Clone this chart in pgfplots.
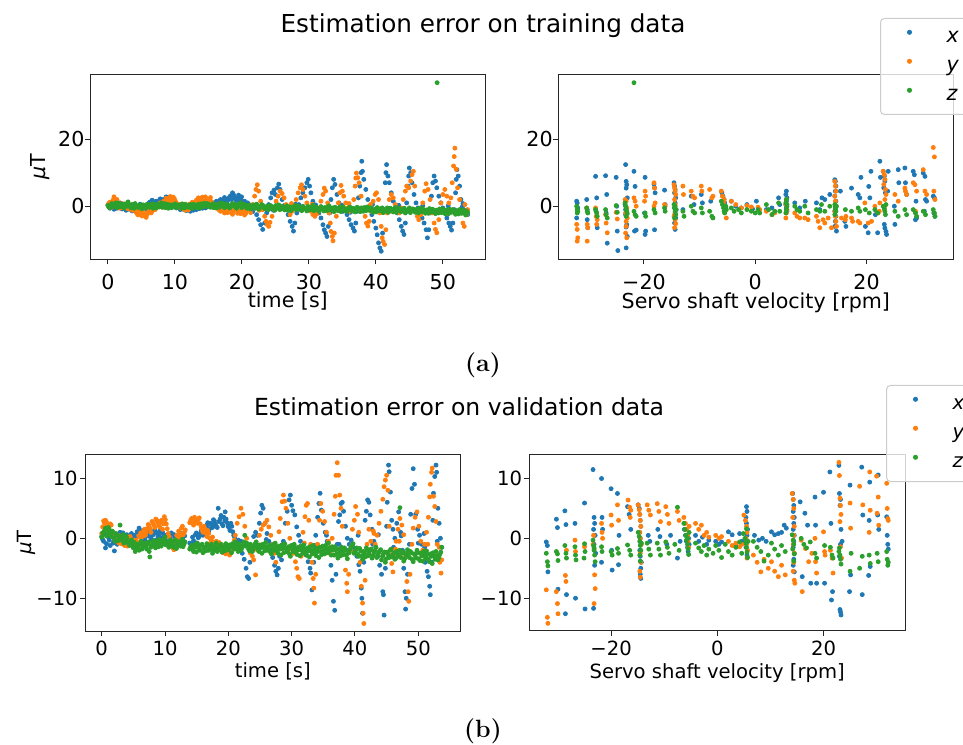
\documentclass[border=0pt]{standalone}
\usepackage{fontspec}
\setsansfont{DejaVu Sans}
\renewcommand{\familydefault}{\sfdefault}
\usepackage{pgfplots}
\pgfplotsset{compat=1.18}

\definecolor{tabblue}{HTML}{1F77B4}
\definecolor{taborange}{HTML}{FF7F0E}
\definecolor{tabgreen}{HTML}{2CA02C}

\pgfplotsset{
  panel/.style={
    scale only axis, axis on top,
    axis line style={line width=0.5pt, black!85},
    tick align=outside, tick pos=left,
    major tick length=2.6pt,
    every tick/.append style={line width=0.5pt, black!85},
    ticklabel style={font=\fontsize{#1}{#1}\selectfont},
    label style={font=\fontsize{#1}{#1}\selectfont},
    yticklabel style={inner xsep=0pt},
  },
  dots/.style={only marks, mark=*, mark size=1.0pt, mark options={draw=none, fill=#1}, color=#1},
  errlegend/.style={
    legend style={
      draw=black!20, line width=0.5pt, rounded corners=2pt,
      fill=white, fill opacity=0.8, text opacity=1, draw opacity=1,
      inner xsep=4.2pt, inner ysep=4.5pt, row sep=4.5pt,
      font=\fontsize{#1}{#1}\selectfont,
      nodes={inner xsep=0pt, inner ysep=0pt, text height=7.5pt, text depth=2.5pt},
      /tikz/every odd column/.append style={column sep=8.2pt},
    },
    legend cell align=left,
    legend image code/.code={
      \path[draw=none, fill=none] (-10.3pt,0pt) rectangle (10.3pt,0pt);
      \draw[##1, fill opacity=1] plot coordinates {(0pt,2.6pt)};
    },
  },
}

\begin{document}
\begin{tikzpicture}
\useasboundingbox (0,0) rectangle (481.5pt,372pt);
\clip (0,0) rectangle (481.5pt,372pt);

% ---------- titles and sub-captions ----------
\node[anchor=base, font=\fontsize{12.35}{14}\selectfont] at (241.5pt,355.5pt) {Estimation error on training data};
\node[anchor=base, font=\fontsize{11.75}{14}\selectfont] at (229.5pt,164pt) {Estimation error on validation data};
\node[font=\rmfamily\bfseries\fontsize{12.5}{14}\selectfont] at (241.5pt,189.5pt) {(a)};
\node[font=\rmfamily\bfseries\fontsize{12.5}{14}\selectfont] at (241.5pt,6.5pt) {(b)};

% ---------- training data, error over time ----------
\begin{axis}[panel=10.3,
  at={(45pt,242.35pt)}, anchor=south west,
  width=197.85pt, height=92.5pt,
  xmin=-2.68, xmax=56.4, ymin=-15.8, ymax=39.3,
  xtick={0,10,20,30,40,50}, xticklabels={0,10,20,30,40,50},
  ytick={0,20}, yticklabels={0,20},
  xticklabel style={anchor=base, yshift=-12.5pt},
  xlabel={time [s]}, ylabel={\textit{μ}T},
  xlabel style={at={([yshift=-24.3pt]axis description cs:0.5,0)}, anchor=base},
  ylabel style={at={([xshift=-25pt]axis description cs:0,0.5)}, anchor=center},
]
\addplot[dots=tabblue] coordinates {
(0.0,0.3) (0.3,-0.6) (0.6,0.8) (0.9,-0.9) (1.2,0.4) (1.5,-0.2) (1.8,1.0) (2.1,-0.8) (2.4,0.2) (2.7,-1.2) (3.0,0.5) (3.3,-0.5) (3.6,-1.4) (3.9,0.3) (4.2,-0.7) (4.5,-1.0) (4.8,0.6) (5.1,-0.4) (5.4,0.2) (5.7,-0.9)
(6.0,0.7) (6.3,1.3) (6.6,1.8) (6.9,0.5) (7.2,1.5) (7.5,0.8) (7.8,2.2) (8.1,1.2) (8.4,0.4) (8.7,2.8) (9.0,1.6) (9.3,0.9) (9.6,-0.3) (9.9,0.6) (10.2,-0.5) (10.5,0.2) (10.8,-1.0) (11.1,0.4) (11.4,-0.6) (11.7,-1.3)
(12.0,-0.2) (12.3,-1.5) (12.6,-0.8) (12.9,0.3) (13.2,-1.0) (13.5,-0.4) (13.8,0.5) (14.1,-0.6) (14.4,0.9) (14.7,-0.3) (15.0,0.6) (15.3,1.2) (15.6,-0.2) (15.9,0.8) (16.2,1.5) (16.5,0.4) (16.8,2.0) (17.1,1.1) (17.4,2.6) (17.7,1.4)
(18.0,2.2) (18.3,3.1) (18.6,4.0) (18.9,2.5) (19.2,1.7) (19.5,3.3) (19.8,2.0) (20.1,0.8) (20.4,1.5) (20.7,-0.3) (21.0,0.6)
(0.15,-0.2) (0.45,0.5) (0.75,-0.4) (1.05,0.7) (1.35,-0.6) (1.65,0.3) (1.95,-0.3) (2.25,0.6) (2.55,-0.7) (2.85,0.1) (3.15,-0.9) (3.45,0.4) (3.75,-0.6) (4.05,-1.2) (4.35,0.1) (4.65,-0.5) (4.95,-1.1) (5.25,0.3) (5.55,-0.6) (5.85,0.1)
(6.15,1.0) (6.45,0.6) (6.75,1.4) (7.05,1.0) (7.35,0.5) (7.65,1.7) (7.95,1.0) (8.25,2.0) (8.55,1.0) (8.85,1.9) (9.15,0.6) (9.45,1.2) (9.75,0.2) (10.05,-0.2) (10.35,0.5) (10.65,-0.6) (10.95,-0.2) (11.25,-0.9) (11.55,0.0) (11.85,-0.8)
(12.15,-1.1) (12.45,-0.3) (12.75,-1.2) (13.05,-0.4) (13.35,0.2) (13.65,-0.7) (13.95,0.0) (14.25,0.4) (14.55,-0.5) (14.85,0.2) (15.15,0.9) (15.45,0.4) (15.75,1.0) (16.05,0.3) (16.35,1.1) (16.65,1.6) (16.95,0.8) (17.25,1.9) (17.55,2.1) (17.85,1.6)
(18.15,2.7) (18.45,2.0) (18.75,3.4) (19.05,2.0) (19.35,2.6) (19.65,1.4) (19.95,2.8) (20.25,1.2) (20.55,0.4) (20.85,1.0)
(21.3,-0.8) (21.6,-1.6) (21.9,-0.5) (22.2,-2.5) (22.5,-4.0) (22.8,-5.5) (23.1,-6.9) (23.4,-5.0) (23.7,-2.0) (24.0,0.5) (24.3,2.5) (24.5,4.0) (24.8,4.8) (25.0,3.5) (25.3,5.5) (25.5,6.6) (25.7,5.0) (26.0,2.0) (26.3,0.2) (26.6,-1.0)
(26.9,-2.5) (27.2,-4.5) (27.5,-6.0) (27.7,-7.4) (27.9,-5.0) (28.2,-2.0) (28.5,0.5) (28.8,2.5) (29.1,4.0) (29.4,5.5) (29.7,7.0) (29.9,8.0) (30.1,6.0) (30.3,4.0) (30.6,1.5) (30.9,0.0) (31.2,-1.0) (31.5,-2.0) (31.8,-3.5) (32.1,-5.5)
(32.3,-7.0) (32.5,-8.0) (32.7,-9.0) (32.9,-6.0) (33.1,-2.0) (33.3,2.0) (33.5,5.5) (33.7,8.0) (33.9,6.5) (34.2,3.5) (34.5,1.0) (34.8,-0.5) (35.1,-1.5) (35.4,-1.0) (35.7,-2.5) (36.0,-4.0) (36.3,-5.5) (36.6,-6.5) (36.8,-7.4) (37.0,-5.0)
(37.2,-1.5) (37.4,2.5) (37.6,6.0) (37.8,10.0) (37.9,13.4) (38.0,10.4) (38.2,8.0) (38.5,5.0) (38.8,2.0) (39.1,-0.5) (39.4,-2.5) (39.7,-4.5) (40.0,-6.5) (40.2,-8.5) (40.4,-10.9) (40.6,-12.4) (40.8,-13.4) (41.0,-8.0) (41.2,-1.0) (41.4,7.0)
(41.5,10.0) (41.6,12.4) (41.8,9.0) (42.0,7.0) (42.3,4.0) (42.6,1.5) (42.9,-0.5) (43.2,-2.0) (43.5,-4.0) (43.8,-6.0) (44.0,-7.4) (44.2,-8.4) (44.4,-5.0) (44.6,1.0) (44.8,6.0) (44.9,9.0) (45.0,11.4) (45.2,10.0) (45.4,7.0) (45.7,3.5)
(46.0,1.0) (46.3,-0.5) (46.6,-2.0) (46.9,-3.5) (47.2,-5.0) (47.5,-7.0) (47.7,-9.4) (47.9,-7.0) (48.1,-2.0) (48.3,3.0) (48.5,7.0) (48.7,9.0) (48.9,7.5) (49.1,5.5) (49.4,3.0) (49.7,1.0) (50.0,-0.5) (50.3,-2.0) (50.6,-3.5) (50.9,-5.0)
(51.1,-6.0) (51.3,-7.1) (51.5,-5.0) (51.7,-1.0) (51.9,4.0) (52.0,8.0) (52.1,10.9) (52.3,9.0) (52.5,6.0) (52.7,2.0) (52.9,-0.2) (53.1,-1.0) (53.3,-2.0) (53.5,-1.2) (53.7,-2.5)
(22.0,0.3) (23.0,-0.5) (24.7,-1.2) (26.2,-0.3) (28.0,0.6) (29.0,-0.8) (31.0,0.4) (33.0,-1.5) (34.9,0.3) (36.2,-1.8) (38.7,-0.4) (39.5,0.5) (42.5,-1.0) (43.4,0.3) (46.1,-1.5) (47.0,0.2) (49.9,-1.2) (50.8,0.1) (53.0,0.8)
};
\addplot[dots=taborange] coordinates {
(0.0,0.5) (0.3,1.2) (0.6,-0.3) (0.9,2.8) (1.2,1.5) (1.5,0.4) (1.8,-0.6) (2.1,0.8) (2.4,-0.2) (2.7,0.3) (3.0,-0.8) (3.3,0.2) (3.6,-1.2) (3.9,-0.5) (4.2,-1.8) (4.5,-2.6) (4.8,-1.4) (5.1,-2.9) (5.4,-2.2) (5.7,-3.3)
(6.0,-1.9) (6.3,-0.9) (6.6,-1.5) (6.9,0.2) (7.2,-0.6) (7.5,0.5) (7.8,1.0) (8.1,-0.3) (8.4,1.6) (8.7,2.4) (9.0,1.2) (9.3,2.9) (9.6,1.8) (9.9,2.3) (10.2,1.0) (10.5,0.4) (10.8,-0.5) (11.1,0.3) (11.4,-0.9) (11.7,-0.2)
(12.0,-1.1) (12.3,0.2) (12.6,1.2) (12.9,0.5) (13.2,1.8) (13.5,2.5) (13.8,1.3) (14.1,2.7) (14.4,1.9) (14.7,2.2) (15.0,1.0) (15.3,2.6) (15.6,0.8) (15.9,-0.2) (16.2,0.4) (16.5,-0.9) (16.8,-1.5) (17.1,-0.6) (17.4,-2.0) (17.7,-1.2)
(18.0,-0.4) (18.3,-1.7) (18.6,-2.4) (18.9,-1.0) (19.2,-0.3) (19.5,-1.8) (19.8,-2.2) (20.1,-1.1) (20.4,-2.6) (20.7,-1.5) (21.0,-0.7) (21.3,-1.9)
(0.15,0.9) (0.45,-0.1) (0.75,1.8) (1.05,1.0) (1.35,2.0) (1.65,0.1) (1.95,0.4) (2.25,-0.4) (2.55,0.6) (2.85,-0.5) (3.15,0.0) (3.45,-0.9) (3.75,-0.2) (4.05,-1.0) (4.35,-2.2) (4.65,-1.7) (4.95,-2.4) (5.25,-1.6) (5.55,-2.7) (5.85,-2.5)
(6.15,-1.2) (6.45,-2.0) (6.75,-0.4) (7.05,-1.0) (7.35,0.1) (7.65,-0.2) (7.95,0.6) (8.25,1.2) (8.55,0.5) (8.85,2.0) (9.15,2.5) (9.45,1.5) (9.75,2.7) (10.05,1.6) (10.35,0.7) (10.65,-0.1) (10.95,0.6) (11.25,-0.4) (11.55,-1.2) (11.85,-0.5)
(12.15,0.6) (12.45,-0.3) (12.75,0.9) (13.05,1.2) (13.35,2.0) (13.65,1.6) (13.95,2.4) (14.25,1.4) (14.55,2.8) (14.85,1.6) (15.15,2.0) (15.45,1.4) (15.75,0.2) (16.05,-0.5) (16.35,0.1) (16.65,-1.2) (16.95,-0.3) (17.25,-1.4) (17.55,-0.8) (17.85,-1.9)
(18.15,-1.0) (18.45,-2.0) (18.75,-1.4) (19.05,-0.7) (19.35,-2.1) (19.65,-1.4) (19.95,-1.9) (20.25,-0.8) (20.55,-2.2) (20.85,-1.2)
(21.6,0.5) (21.9,3.0) (22.1,5.0) (22.3,6.4) (22.5,4.5) (22.8,1.5) (23.1,-1.0) (23.4,-3.0)
(23.6,-4.5) (23.8,-5.5) (24.0,-6.0) (24.2,-4.8) (24.5,-3.0) (24.8,-1.0) (25.1,1.5) (25.4,3.0) (25.7,4.5) (26.0,3.8) (26.3,2.5) (26.6,0.5) (26.9,-1.0) (27.2,-2.5) (27.5,-1.5) (27.8,0.0) (28.1,2.0) (28.4,4.0) (28.7,5.5) (28.9,6.4)
(29.1,5.0) (29.4,3.0) (29.7,1.0) (30.0,-0.5) (30.3,-1.5) (30.6,-2.5) (30.9,-3.0) (31.2,-2.2) (31.5,-0.5) (31.8,1.5) (32.1,3.5) (32.3,5.4) (32.5,4.5) (32.8,1.0) (33.0,-2.0) (33.2,-5.0) (33.3,-7.5) (33.5,-9.0) (33.6,-10.3) (33.8,-8.0)
(34.1,-3.0) (34.4,1.0) (34.6,4.0) (34.8,6.2) (35.0,4.5) (35.2,3.0) (35.5,1.0) (35.8,-0.5) (36.1,-1.5) (36.4,-1.0) (36.7,2.0) (36.9,6.0) (37.0,8.4) (37.1,9.9) (37.3,8.5) (37.5,7.0) (37.8,3.0) (38.1,-1.0) (38.4,-3.0) (38.6,-5.0)
(38.8,-5.9) (39.0,-4.5) (39.3,-1.5) (39.6,1.5) (39.9,3.5) (40.1,4.0) (40.4,2.0) (40.6,-2.0) (40.8,-6.0) (40.95,-9.4) (41.1,-10.5) (41.3,-11.4) (41.5,-7.0) (41.7,-2.0) (42.0,2.0) (42.3,3.5) (42.6,2.5) (42.9,0.5) (43.2,-1.0) (43.5,-2.0)
(43.8,-0.5) (44.1,2.0) (44.4,4.5) (44.6,6.0) (44.9,5.5) (45.2,7.5) (45.4,9.4) (45.6,10.4) (45.8,6.0) (46.0,-1.0) (46.2,-3.0) (46.4,-4.0) (46.7,-2.5) (47.0,1.0) (47.3,4.5) (47.5,6.7) (47.8,5.0) (48.1,2.0) (48.4,-2.0) (48.7,-5.0)
(48.9,-6.9) (49.1,-7.9) (49.4,-4.0) (49.7,1.0) (50.0,3.5) (50.3,5.0) (50.6,3.0) (50.9,1.0) (51.2,2.5) (51.4,7.0) (51.6,12.0) (51.7,14.8) (51.8,17.3) (52.0,11.0) (52.2,5.5) (52.5,2.0) (52.8,-2.0) (53.0,-5.0) (53.2,-6.0) (53.5,-2.5) (53.7,-1.0)
(22.6,-1.2) (25.9,-0.8) (27.4,0.8) (30.5,0.6) (34.0,-1.2) (36.0,0.8) (39.2,0.5) (42.1,-1.5) (44.0,-1.0) (46.9,-1.2) (49.8,-1.5) (51.0,-1.8) (53.3,0.5)
};
\addplot[dots=tabgreen] coordinates {
(0.0,0.2) (0.3,-0.4) (0.6,0.8) (0.9,0.1) (1.2,1.0) (1.5,0.3) (1.8,-0.2) (2.1,0.6) (2.4,-0.5) (2.7,0.4) (3.0,1.3) (3.3,-0.1) (3.6,0.5) (3.9,-0.6) (4.2,0.2) (4.5,-0.3) (4.8,0.4) (5.1,-0.7) (5.4,0.1) (5.7,-0.4)
(6.0,0.5) (6.3,-0.2) (6.6,0.7) (6.9,0.0) (7.2,-0.5) (7.5,0.6) (7.8,0.2) (8.1,-0.3) (8.4,0.8) (8.7,0.1) (9.0,-0.6) (9.3,0.4) (9.6,-0.2) (9.9,0.6) (10.2,-0.4) (10.5,0.3) (10.8,-0.1) (11.1,0.7) (11.4,-0.5) (11.7,0.2)
(12.0,-0.3) (12.3,0.5) (12.6,-0.6) (12.9,0.1) (13.2,-0.2) (13.5,0.6) (13.8,-0.4) (14.1,0.3) (14.4,0.9) (14.7,0.0) (15.0,0.5) (15.3,-0.3) (15.6,0.7) (15.9,0.2) (16.2,-0.5) (16.5,0.4) (16.8,1.0) (17.1,0.1) (17.4,-0.4) (17.7,0.6)
(18.0,0.2) (18.3,-0.3) (18.6,0.8) (18.9,0.0) (19.2,-0.6) (19.5,0.4) (19.8,1.0) (20.1,-0.2) (20.4,0.5) (20.7,-0.5) (21.0,0.3) (21.3,-0.8) (21.6,0.1) (21.9,-0.4) (22.2,0.6) (22.5,-0.9) (22.8,-0.2) (23.1,0.3) (23.4,-0.7) (23.7,-0.1)
(24.0,-1.0) (24.3,0.2) (24.6,-0.5) (24.9,-1.2) (25.2,-0.3) (25.5,0.4) (25.8,-0.8) (26.1,-0.2) (26.4,-1.1) (26.7,0.1) (27.0,-0.6) (27.3,-1.3) (27.6,-0.4) (27.9,0.2) (28.2,-0.9) (28.5,-0.3) (28.8,-1.1) (29.1,0.0) (29.4,-0.7) (29.7,-1.4)
(30.0,-0.2) (30.3,-0.8) (30.6,0.3) (30.9,-1.0) (31.2,-0.5) (31.5,-1.5) (31.8,-0.1) (32.1,-0.9) (32.4,-0.4) (32.7,-1.3) (33.0,0.1) (33.3,-0.7) (33.6,-1.2) (33.9,-0.3) (34.2,-1.0) (34.5,-0.5) (34.8,-1.6) (35.1,-0.2) (35.4,-0.9) (35.7,-1.4)
(36.0,-0.4) (36.3,-1.1) (36.6,-0.6) (36.9,-1.7) (37.2,-0.3) (37.5,-1.0) (37.8,-0.5) (38.1,-1.5) (38.4,-0.8) (38.7,-0.2) (39.0,-1.2) (39.3,-0.6) (39.6,-1.8) (39.9,-0.9) (40.2,-0.4) (40.5,-1.3) (40.8,-0.7) (41.1,-1.9) (41.4,-1.0) (41.7,-0.5)
(42.0,-1.4) (42.3,-0.8) (42.6,-1.7) (42.9,-0.4) (43.2,-1.1) (43.5,-0.6) (43.8,-1.6) (44.1,-0.9) (44.4,-2.0) (44.7,-1.2) (45.0,-0.5) (45.3,-1.5) (45.6,-0.9) (45.9,-1.8) (46.2,-1.1) (46.5,-0.6) (46.8,-1.6) (47.1,-1.0) (47.4,-2.1) (47.7,-1.3)
(48.0,-0.7) (48.3,-1.7) (48.6,-1.1) (48.9,-2.2) (49.2,-1.4) (49.5,-0.8) (49.8,-1.9) (50.1,-1.2) (50.4,-2.3) (50.7,-1.5) (51.0,-0.9) (51.3,-1.8) (51.6,-1.3) (51.9,-2.4) (52.2,-1.6) (52.5,-1.0) (52.8,-2.1) (53.1,-1.5) (53.4,-2.6) (53.7,-1.8)
(0.15,-0.3) (0.45,0.5) (0.75,-0.1) (1.05,0.6) (1.35,-0.4) (1.65,0.9) (1.95,0.2) (2.25,-0.2) (2.55,0.7) (2.85,0.0) (3.15,0.4) (3.45,-0.5) (3.75,0.3) (4.05,0.8) (4.35,-0.2) (4.65,0.1) (4.95,-0.6) (5.25,0.4) (5.55,-0.1) (5.85,0.6)
(6.15,-0.3) (6.45,0.3) (6.75,-0.6) (7.05,0.5) (7.35,0.1) (7.65,-0.2) (7.95,0.9) (8.25,0.3) (8.55,-0.4) (8.85,0.6) (9.15,0.0) (9.45,-0.4) (9.75,0.3) (10.05,0.7) (10.35,-0.1) (10.65,0.4) (10.95,-0.6) (11.25,0.2) (11.55,0.6) (11.85,-0.2)
(12.15,0.3) (12.45,-0.4) (12.75,0.6) (13.05,0.2) (13.35,-0.5) (13.65,0.1) (13.95,0.7) (14.25,-0.2) (14.55,0.4) (14.85,0.8) (15.15,-0.1) (15.45,0.3) (15.75,-0.4) (16.05,0.6) (16.35,0.1) (16.65,-0.3) (16.95,0.5) (17.25,0.8) (17.55,-0.2) (17.85,0.3)
(18.15,-0.5) (18.45,0.5) (18.75,0.1) (19.05,0.6) (19.35,-0.2) (19.65,0.2) (19.95,-0.4) (20.25,0.6) (20.55,0.0) (20.85,-0.6) (21.15,0.2) (21.45,-0.3) (21.75,0.4) (22.05,-0.6) (22.35,0.0) (22.65,-0.4) (22.95,0.5) (23.25,-0.3) (23.55,-0.8) (23.85,0.1)
(24.15,-0.5) (24.45,-0.1) (24.75,-0.8) (25.05,0.2) (25.35,-0.6) (25.65,-1.0) (25.95,-0.1) (26.25,-0.7) (26.55,-0.3) (26.85,-1.2) (27.15,-0.2) (27.45,-0.8) (27.75,-0.3) (28.05,-1.0) (28.35,0.1) (28.65,-0.6) (28.95,-1.3) (29.25,-0.4) (29.55,-0.9) (29.85,-0.1)
(30.15,-1.1) (30.45,-0.6) (30.75,-1.3) (31.05,-0.3) (31.35,-0.8) (31.65,-1.0) (31.95,-0.4) (32.25,-1.4) (32.55,-0.6) (32.85,-0.2) (33.15,-1.1) (33.45,-0.5) (33.75,-1.6) (34.05,-0.7) (34.35,-1.3) (34.65,-0.2) (34.95,-1.0) (35.25,-0.6) (35.55,-1.5) (35.85,-0.8)
(36.15,-0.3) (36.45,-1.4) (36.75,-0.9) (37.05,-1.2) (37.35,-0.6) (37.65,-1.6) (37.95,-0.9) (38.25,-0.4) (38.55,-1.3) (38.85,-1.0) (39.15,-0.5) (39.45,-1.5) (39.75,-1.0) (40.05,-1.7) (40.35,-0.7) (40.65,-1.2) (40.95,-0.5) (41.25,-1.4) (41.55,-1.0) (41.85,-1.8)
(42.15,-0.6) (42.45,-1.3) (42.75,-0.9) (43.05,-1.8) (43.35,-0.7) (43.65,-1.4) (43.95,-1.1) (44.25,-0.6) (44.55,-1.6) (44.85,-1.1) (45.15,-1.9) (45.45,-0.8) (45.75,-1.4) (46.05,-1.0) (46.35,-2.0) (46.65,-1.3) (46.95,-0.7) (47.25,-1.6) (47.55,-1.1) (47.85,-2.1)
(48.15,-1.3) (48.45,-0.9) (48.75,-1.8) (49.05,-1.2) (49.35,-2.0) (49.65,-1.4) (49.95,-0.8) (50.25,-1.7) (50.55,-1.1) (50.85,-2.2) (51.15,-1.4) (51.45,-1.0) (51.75,-1.9) (52.05,-1.3) (52.35,-2.3) (52.65,-1.5) (52.95,-1.1) (53.25,-2.0) (53.55,-1.4)
(49.15,36.8)
};
\end{axis}

% ---------- training data, error over shaft velocity ----------
\begin{axis}[panel=10.3, errlegend=10.3,
  at={(279.15pt,242.35pt)}, anchor=south west,
  width=197.5pt, height=92.5pt,
  xmin=-35.4, xmax=35.6, ymin=-15.8, ymax=39.3,
  xtick={-20,0,20}, xticklabels={−20,0,20},
  ytick={0,20}, yticklabels={0,20},
  xticklabel style={anchor=base, yshift=-12.5pt},
  xlabel={Servo shaft velocity [rpm]},
  xlabel style={at={([yshift=-24.5pt]axis description cs:0.5,0)}, anchor=base},
  legend style={at={(0.8144,1.3043)}, anchor=north west},
]
\addplot[dots=tabblue] coordinates {
(-32.1,1.5) (-32.0,1.0) (-32.1,-3.5) (-31.9,-0.5)
(-30.3,2.0) (-30.2,-4.0) (-30.1,-6.4) (-30.2,-1.0)
(-28.7,8.9) (-28.5,2.5) (-28.4,-6.4) (-28.6,-1.5)
(-26.9,9.1) (-26.7,3.5) (-26.6,-11.0) (-26.8,-2.0)
(-25.0,8.6) (-24.9,0.0) (-24.8,-7.4) (-24.7,-13.2)
(-23.3,12.4) (-23.2,7.4) (-23.1,6.4) (-23.2,5.4) (-23.0,2.5) (-23.3,-2.5) (-23.1,-5.5) (-23.2,-6.2) (-23.0,-9.0) (-23.2,-12.4) (-23.4,0.5) (-23.3,-1.0)
(-21.8,10.4) (-21.6,5.9) (-21.4,-7.1) (-21.7,-7.4)
(-19.8,8.6) (-19.9,-2.0) (-19.7,-7.4) (-19.8,-8.4)
(-18.2,6.6) (-18.1,5.5) (-18.0,4.0) (-18.1,-7.0)
(-16.3,4.8) (-16.2,0.5)
(-14.6,7.0) (-14.5,6.0) (-14.4,5.0) (-14.5,4.0) (-14.3,2.5) (-14.4,1.0) (-14.5,-0.5) (-14.4,-2.0) (-14.3,-3.5) (-14.5,-5.0) (-14.4,-6.9) (-14.2,-1.0)
(-13.0,-1.0) (-11.5,3.0) (-11.0,0.5) (-9.7,3.5) (-9.5,1.0) (-8.0,1.5)
(-6.0,4.0) (-5.8,3.0) (-5.6,2.0) (-5.5,1.0) (-5.4,0.0) (-5.3,-0.5) (-5.5,-1.0)
(-4.3,1.5) (-3.5,0.0) (-2.5,-0.5) (-1.5,0.5) (0.2,1.5) (-0.5,-0.8)
(2.0,-1.0) (3.0,-0.5) (4.2,2.5) (4.4,0.5)
(5.6,4.5) (5.5,3.5) (5.7,2.5) (5.6,1.5) (5.5,0.5) (5.6,-0.5) (5.7,-1.5)
(7.1,1.0) (8.0,-0.5) (9.0,1.5) (11.0,1.0) (11.6,-1.0) (12.0,2.5) (12.5,2.0) (13.4,3.5)
(14.3,7.9) (14.4,7.4) (14.5,6.0) (14.4,4.5) (14.3,3.0) (14.5,1.5) (14.4,0.0) (14.3,-1.5) (14.5,-3.0) (14.4,-4.5) (14.3,-6.0) (14.6,-7.4)
(15.3,4.5) (16.1,-4.5) (16.3,-6.0) (17.3,5.4) (18.5,3.5) (18.8,2.5) (19.0,8.6)
(19.8,-6.0) (20.3,-7.9) (20.4,5.9) (20.6,2.5) (20.8,10.4)
(21.6,-2.5) (22.0,-7.9) (22.4,13.4) (22.5,8.6)
(23.0,10.4) (23.2,9.0) (23.3,7.5) (23.1,5.5) (23.4,4.0) (23.2,-5.4) (23.3,-6.5) (23.5,-7.5) (23.6,-8.4) (23.9,10.4) (23.8,4.5)
(25.1,-5.4) (25.0,0.0) (25.7,10.9) (25.8,7.0)
(26.9,11.4) (27.0,7.0) (27.2,3.5)
(28.4,10.4) (28.6,9.4) (28.9,1.5) (29.0,-3.5) (28.8,-4.0)
(30.2,9.9) (30.5,8.9) (30.6,2.0) (30.8,1.5) (30.4,-1.5)
(32.0,3.0) (32.2,2.5) (32.1,-2.0) (32.3,-3.0)
};
\addplot[dots=taborange] coordinates {
(-32.1,-5.4) (-32.0,-6.9) (-31.9,-9.4) (-32.0,-10.4)
(-30.3,-0.5) (-30.2,-5.4) (-30.1,-6.4) (-30.2,-10.4)
(-28.7,-0.5) (-28.6,-3.0) (-28.4,-4.0) (-28.5,-5.4)
(-26.9,-2.5) (-26.8,-5.0) (-26.6,-7.9)
(-25.0,-1.8) (-24.8,-3.8)
(-23.4,2.0) (-23.2,1.5) (-23.1,-0.5) (-23.3,-2.0) (-23.0,-3.5) (-23.2,-4.5) (-23.1,-9.4) (-23.3,-8.0) (-23.2,-6.0)
(-21.8,2.5) (-21.6,1.5) (-21.4,0.0)
(-19.8,4.5) (-19.7,3.0) (-19.9,1.5)
(-18.2,7.0) (-18.1,5.4) (-18.0,1.0) (-18.2,0.0)
(-16.3,0.5) (-16.2,0.0)
(-14.6,6.4) (-14.5,5.5) (-14.4,4.5) (-14.3,3.5) (-14.5,2.0) (-14.4,0.5) (-14.3,-1.0) (-14.5,-2.5) (-14.4,-4.0) (-14.3,-5.2) (-14.5,-6.4) (-14.6,-3.0)
(-13.0,6.0) (-12.9,3.5) (-11.5,4.5) (-11.2,3.0) (-10.9,2.5) (-9.7,6.0) (-9.6,4.5) (-8.2,5.0) (-7.8,2.5) (-7.6,3.0)
(-6.1,4.5) (-5.9,3.0) (-5.7,1.5) (-5.6,0.5) (-5.5,-0.5) (-5.4,-1.5) (-5.2,-3.5) (-5.6,2.0)
(-4.3,1.5) (-3.5,0.5) (-2.5,-0.5) (-1.5,0.2) (-0.7,-0.2) (0.5,-0.3) (0.8,-1.0)
(2.0,-1.5) (3.0,-2.5) (3.5,-2.0)
(5.6,2.0) (5.5,0.5) (5.7,-1.0) (5.6,-2.0) (5.5,-3.5)
(7.1,-2.0) (7.5,-3.0) (8.0,-3.5) (8.9,-3.5) (9.5,-4.0) (11.0,-3.0) (11.3,-4.5) (11.6,-6.4) (12.2,-4.0) (12.5,-5.0) (13.1,-3.5) (13.7,-6.4)
(14.3,7.4) (14.4,6.0) (14.5,4.5) (14.3,3.0) (14.4,1.5) (14.5,0.0) (14.3,-1.5) (14.4,-3.0) (14.5,-4.5) (14.6,-6.0)
(15.5,-3.5) (16.3,-3.0) (16.2,-4.0) (17.3,-3.5) (17.5,-4.5) (18.5,-4.5) (18.8,-5.0) (19.7,1.0) (20.3,-5.0) (20.9,-4.5)
(21.5,0.0) (22.1,-2.0) (22.4,1.0) (22.3,-1.5)
(23.0,10.4) (23.2,9.4) (23.3,8.0) (23.1,6.5) (23.4,5.0) (23.5,3.5) (23.3,2.0) (23.2,-0.5)
(25.1,3.5) (25.7,1.5) (26.9,5.4) (27.0,4.5) (27.2,3.5)
(28.4,7.0) (28.7,6.4) (29.0,4.5) (28.8,-1.5)
(30.2,10.9) (30.5,4.5) (30.8,3.5)
(32.0,17.5) (32.2,14.7) (32.1,4.5) (32.3,2.0)
};
\addplot[dots=tabgreen] coordinates {
(-32.1,0.0) (-32.0,-1.0) (-31.9,-1.5) (-32.0,-2.0)
(-30.3,-0.5) (-30.2,-1.5) (-30.1,-2.0)
(-28.7,-1.0) (-28.5,-2.0) (-28.4,-3.0)
(-26.9,-1.0) (-26.8,-2.5) (-26.6,-3.5)
(-25.0,0.2) (-24.8,-1.8)
(-23.4,1.0) (-23.3,0.0) (-23.2,-0.8) (-23.1,-1.5) (-23.0,-2.2) (-23.2,-3.0)
(-21.8,-1.5) (-21.6,-2.5) (-21.4,-3.0)
(-19.8,-2.0) (-19.7,-3.0)
(-18.2,-1.0) (-18.0,-2.0)
(-16.3,-0.5) (-16.2,-1.5)
(-14.6,0.5) (-14.5,-0.5) (-14.4,-1.5) (-14.3,-2.5) (-14.5,-3.5) (-14.4,0.0) (-14.3,-1.0)
(-13.0,-1.5) (-12.8,-3.0) (-11.5,0.0) (-11.2,-1.5) (-10.9,-2.0) (-9.7,-0.5) (-9.5,-2.0) (-8.2,-1.5) (-7.8,-3.0) (-7.6,-3.5)
(-6.1,1.5) (-5.9,0.5) (-5.7,-0.5) (-5.6,-1.5) (-5.5,-2.0) (-5.3,0.0) (-5.2,-1.0)
(-4.3,-0.5) (-3.8,-1.5) (-3.0,-1.0) (-2.5,-2.0) (-1.5,-1.0) (-0.7,-1.5) (0.0,-2.0) (0.5,-1.0) (0.8,-2.0)
(2.0,0.5) (2.4,-1.0) (3.0,-2.5) (3.5,-1.5) (4.2,1.0) (4.4,-1.5)
(5.6,2.0) (5.5,1.0) (5.7,0.0) (5.6,-1.0) (5.5,-2.0) (5.7,0.5)
(7.1,0.0) (7.5,-1.0) (8.0,-1.5) (8.9,0.0) (9.5,-2.0) (11.0,-1.0) (11.6,-1.5) (11.9,0.5) (12.5,-1.5) (13.4,0.0)
(14.3,0.5) (14.4,-0.5) (14.5,-1.5) (14.3,-2.5) (14.6,0.0) (14.4,-1.0)
(16.2,-1.0) (17.3,-1.5) (18.5,-0.5) (18.8,-1.5) (19.8,-1.0) (20.5,-2.0) (21.5,-1.0) (22.0,-2.0)
(23.0,0.0) (23.2,-0.8) (23.3,-1.5) (23.4,-2.5) (23.5,0.5)
(25.1,-1.5) (25.7,-3.0) (26.9,-1.0) (27.2,-2.5)
(28.4,-1.0) (28.8,-2.0) (29.0,-3.0)
(30.2,-1.5) (30.6,-2.5)
(32.0,-1.0) (32.2,-2.0) (32.3,-3.0)
(-21.8,36.8)
};
\legend{\textit{x},\textit{y},\textit{z}}
\end{axis}

% ---------- validation data, error over time ----------
\begin{axis}[panel=9.8,
  at={(42.5pt,56.5pt)}, anchor=south west,
  width=187.85pt, height=88.35pt,
  xmin=-2.64, xmax=56.7, ymin=-15.45, ymax=14.0,
  xtick={0,10,20,30,40,50}, xticklabels={0,10,20,30,40,50},
  ytick={-10,0,10}, yticklabels={−10,0,10},
  xticklabel style={anchor=base, yshift=-9.8pt},
  yticklabel style={xshift=-0.85pt},
  xlabel={time [s]}, ylabel={\textit{μ}T},
  xlabel style={at={([yshift=-23.2pt]axis description cs:0.5,0)}, anchor=base},
  ylabel style={at={([xshift=-29.5pt]axis description cs:0,0.5)}, anchor=center},
]
\addplot[dots=tabblue] coordinates {
(0.0,0.3) (0.3,-0.5) (0.6,-1.6) (0.9,0.6) (1.2,-0.3) (1.5,0.9) (1.8,-0.8) (2.0,-2.1) (2.3,0.2) (2.6,-0.6) (2.9,1.0) (3.2,-0.2) (3.5,0.5) (3.8,-1.1) (4.1,0.3) (4.4,-0.5) (4.7,0.8) (5.0,-0.9) (5.3,0.1) (5.6,1.1)
(5.9,1.7) (6.2,0.6) (6.5,1.3) (6.8,-0.2) (7.1,0.8) (7.4,1.4) (7.7,0.2) (8.0,1.1) (8.3,-0.4) (8.6,0.9) (8.9,0.3) (9.2,1.2) (9.5,-0.5) (9.8,0.6) (10.1,-0.8) (10.4,0.4) (10.7,-0.3) (11.0,0.9) (11.3,-1.0) (11.6,0.2)
(11.9,-0.6) (12.2,0.5) (12.5,-1.2) (12.8,-0.2) (13.1,0.4) (13.9,-0.8) (14.2,-1.5) (14.5,-0.4) (14.8,0.6) (15.1,-0.9) (15.4,0.3) (15.7,1.2) (16.0,0.5) (16.3,1.6) (16.6,2.2) (16.9,1.2) (17.2,2.5) (17.5,1.8) (17.8,2.9) (18.1,2.0)
(18.4,5.0) (18.7,3.2) (19.0,2.4) (19.3,3.5) (19.5,4.4) (19.8,2.6) (20.1,1.8) (20.4,2.5) (20.7,1.1) (21.0,0.2)
(0.15,-0.2) (0.45,0.8) (0.75,-0.9) (1.05,0.2) (1.35,-1.2) (1.65,0.4) (1.95,-0.4) (2.45,-1.0) (2.75,0.5) (3.05,-0.7) (3.35,0.9) (3.65,-0.4) (3.95,0.6) (4.25,-0.9) (4.55,0.1) (4.85,-0.3) (5.15,0.5) (5.45,-0.5) (5.75,0.9) (6.05,1.2)
(6.35,0.3) (6.65,0.9) (6.95,1.5) (7.25,0.4) (7.55,1.0) (7.85,-0.1) (8.15,0.6) (8.45,1.3) (8.75,-0.2) (9.05,0.7) (9.35,0.1) (9.65,0.9) (9.95,-0.3) (10.25,0.5) (10.55,-0.9) (10.85,0.2) (11.15,-0.5) (11.45,0.6) (11.75,-0.8) (12.05,0.1)
(12.35,-0.4) (12.65,0.8) (12.95,-0.6) (14.05,-0.9) (14.35,0.2) (14.65,-0.6) (14.95,0.9) (15.25,0.1) (15.55,0.7) (15.85,1.4) (16.15,0.8) (16.45,1.9) (16.75,2.6) (17.05,1.6) (17.35,2.2) (17.65,3.1) (17.95,2.4) (18.25,1.8) (18.55,2.8) (18.85,3.8)
(19.15,2.1) (19.45,2.9) (19.65,3.2) (19.95,2.0) (20.25,1.3) (20.55,2.0) (20.85,0.5) (21.15,-0.3)
(21.3,-0.8) (21.6,-0.3) (21.9,-1.5) (22.2,-2.5) (22.5,-3.5) (22.8,-5.0) (23.0,-6.4) (23.2,-6.7) (23.4,-4.0) (23.7,-1.5)
(24.0,0.3) (24.3,1.0) (24.6,0.5) (24.9,2.5) (25.1,4.2) (25.3,5.5) (25.5,5.0) (25.8,2.5) (26.1,0.8) (26.4,-0.5) (26.7,-2.0) (27.0,-3.2) (27.3,-4.5) (27.5,-5.5) (27.7,-6.1) (27.9,-5.0) (28.1,-3.0) (28.4,-3.6) (28.7,-0.5) (29.0,2.5)
(29.3,4.5) (29.6,6.4) (29.8,7.2) (30.0,5.5) (30.2,4.6) (30.5,3.9) (30.8,1.9) (31.1,0.5) (31.4,-0.5) (31.7,-1.5) (32.0,-2.0) (32.3,-2.8) (32.6,-3.9) (32.9,-5.0) (33.0,-5.8) (33.2,-8.6) (33.5,-4.0) (33.8,0.5) (34.1,3.5) (34.3,5.8)
(34.5,7.5) (34.7,4.7) (35.0,2.5) (35.3,1.0) (35.6,-0.5) (35.9,-2.0) (36.2,-4.5) (36.4,-7.0) (36.6,-10.5) (36.8,-12.0) (37.0,-6.0) (37.2,-1.0) (37.4,2.8) (37.6,3.9) (37.8,5.8) (38.0,6.0) (38.2,4.5) (38.5,2.0) (38.8,0.0) (39.1,-1.0)
(39.4,-0.3) (39.7,-1.5) (40.0,-2.2) (40.3,-3.0) (40.6,-4.4) (40.8,-5.5) (41.0,-8.3) (41.1,-10.0) (41.2,-12.5) (41.4,-4.0) (41.6,3.0) (41.8,4.5) (42.0,6.4) (42.2,6.0) (42.4,3.9) (42.7,1.5) (43.0,-0.5) (43.3,-1.5) (43.6,-3.0) (43.9,-4.5)
(44.2,-6.0) (44.4,-8.9) (44.5,-9.4) (44.6,-12.8) (44.8,-5.0) (45.0,2.0) (45.1,6.0) (45.3,12.2) (45.4,11.1) (45.6,7.7) (45.8,3.0) (46.0,1.5) (46.3,0.0) (46.6,2.5) (46.9,4.4) (47.2,1.0) (47.5,-2.0) (47.7,-5.0) (47.9,-8.9) (48.0,-11.8)
(48.1,-10.0) (48.3,-6.0) (48.6,-1.0) (48.8,4.0) (49.0,8.3) (49.2,11.6) (49.4,9.0) (49.6,4.0) (49.9,1.5) (50.2,0.5) (50.5,-1.0) (50.8,-2.5) (51.1,-4.0) (51.4,-5.5) (51.6,-6.4) (51.8,-8.0) (51.9,-9.4) (52.1,-4.0) (52.3,3.0) (52.4,7.5)
(52.6,10.3) (52.8,12.2) (52.9,11.0) (53.1,5.0) (53.3,2.5) (53.5,0.0) (53.7,-1.5)
(22.0,-0.5) (24.4,-1.2) (26.0,-0.2) (28.8,-1.0) (31.0,-1.8) (33.7,-1.2) (35.5,0.5) (37.5,-1.0) (39.0,-2.0) (40.5,0.5) (42.8,-1.0) (43.7,0.6) (46.1,-1.5) (47.3,0.4) (50.0,-0.8) (50.9,0.8) (53.0,-0.5) (51.0,-1.5)
};
\addplot[dots=taborange] coordinates {
(0.0,0.8) (0.3,2.9) (0.6,3.0) (0.9,2.2) (1.2,1.3) (1.5,2.2) (1.8,0.5) (2.1,-0.3) (2.4,0.4) (2.7,-0.8) (3.0,0.1) (3.3,-0.5) (3.6,-1.2) (3.9,-0.2) (4.2,-0.9) (4.5,0.3) (4.8,-0.6) (5.1,-1.4) (5.4,-0.3) (5.7,-0.8)
(6.0,0.2) (6.3,0.6) (6.6,1.2) (6.9,0.5) (7.2,1.6) (7.5,2.0) (7.8,1.0) (8.1,2.5) (8.4,1.8) (8.7,3.0) (9.0,2.2) (9.3,2.8) (9.6,1.5) (9.9,3.6) (10.2,2.4) (10.5,0.8) (10.8,-0.5) (11.1,-1.2) (11.4,-1.9) (11.7,-0.8)
(12.0,0.0) (12.3,0.9) (12.6,1.7) (12.9,0.6) (13.2,1.4) (13.9,2.6) (14.2,3.3) (14.5,2.2) (14.8,3.0) (15.1,2.5) (15.4,3.4) (15.7,1.9) (16.0,1.0) (16.3,1.6) (16.6,0.3) (16.9,0.8) (17.2,-0.8) (17.5,0.2) (17.8,-1.5) (18.1,-0.5)
(18.4,-1.8) (18.7,-1.0) (19.0,-2.2) (19.3,-1.2) (19.6,-2.6) (19.9,-1.8) (20.2,-2.8) (20.5,-2.2) (20.8,-1.0)
(0.15,1.9) (0.45,2.5) (0.75,2.7) (1.05,1.6) (1.35,2.4) (1.65,1.1) (1.95,0.2) (2.25,0.6) (2.55,-0.5) (2.85,0.4) (3.15,-0.9) (3.45,0.0) (3.75,-0.6) (4.05,-1.3) (4.35,-0.1) (4.65,-0.9) (4.95,-0.3) (5.25,-1.0) (5.55,-0.6) (5.85,0.4)
(6.15,0.9) (6.45,0.3) (6.75,1.5) (7.05,1.0) (7.35,2.3) (7.65,1.6) (7.95,2.8) (8.25,2.2) (8.55,3.2) (8.85,2.6) (9.15,1.9) (9.45,3.0) (9.75,2.4) (10.05,3.1) (10.35,1.6) (10.65,0.3) (10.95,-0.9) (11.25,-1.6) (11.55,-0.4) (11.85,0.5)
(12.15,1.2) (12.45,0.4) (12.75,2.0) (13.05,1.0) (14.05,3.0) (14.35,2.6) (14.65,3.5) (14.95,2.7) (15.25,3.1) (15.55,2.4) (15.85,1.4) (16.15,2.0) (16.45,0.9) (16.75,1.3) (17.05,0.0) (17.35,-0.4) (17.65,-1.0) (17.95,-1.9) (18.25,-1.2) (18.55,-0.7)
(18.85,-1.6) (19.15,-2.4) (19.45,-1.5) (19.75,-2.2) (20.05,-1.4) (20.35,-2.5) (20.65,-1.6) (20.95,-0.3)
(21.1,0.5) (21.4,2.5) (21.7,3.6) (22.0,5.0) (22.3,4.0) (22.6,2.0) (22.9,0.0) (23.2,-1.5) (23.5,-2.5) (23.8,-3.0) (24.0,-3.6)
(24.3,-6.1) (24.6,-2.0) (24.9,0.5) (25.2,1.5) (25.5,2.2) (25.8,2.5) (26.1,3.0) (26.4,1.9) (26.7,0.5) (27.0,-1.0) (27.3,-2.5) (27.5,-4.0) (27.8,-1.5) (28.0,1.1) (28.2,3.3) (28.5,6.1) (28.7,7.2) (28.9,6.2) (29.1,5.0) (29.4,2.5)
(29.7,0.0) (30.0,-1.5) (30.3,-2.5) (30.6,-3.9) (30.8,-5.0) (31.0,-6.4) (31.2,-6.7) (31.5,-3.0) (31.8,1.0) (32.1,3.6) (32.3,5.5) (32.5,5.8) (32.7,3.0) (33.0,-1.0) (33.2,-4.0) (33.4,-6.7) (33.5,-8.3) (33.6,-10.8) (33.8,-6.0) (34.1,-1.0)
(34.4,3.0) (34.6,5.8) (34.9,4.5) (35.2,2.8) (35.5,1.0) (35.8,-0.5) (36.1,-1.5) (36.4,0.0) (36.7,4.0) (36.9,7.0) (37.0,10.5) (37.2,12.6) (37.4,10.5) (37.6,7.2) (37.8,5.0) (38.0,2.0) (38.3,-2.0) (38.5,-5.3) (38.7,-7.5) (38.8,-8.9)
(39.0,-6.0) (39.3,-2.0) (39.6,1.5) (39.9,3.0) (40.1,5.3) (40.4,4.0) (40.6,1.0) (40.8,-4.0) (41.0,-8.0) (41.2,-10.8) (41.3,-12.5) (41.4,-14.2) (41.6,-7.0) (41.9,-1.0) (42.2,1.5) (42.5,-0.5) (42.9,1.2) (43.2,-1.0) (43.5,0.5) (43.8,2.5)
(44.1,4.5) (44.4,6.5) (44.6,8.6) (44.8,9.7) (45.0,10.5) (45.2,8.0) (45.4,2.0) (45.6,-2.8) (45.8,-4.2) (46.0,-5.6) (46.2,-3.0) (46.5,-0.5) (46.8,1.5) (47.1,3.3) (47.4,2.2) (47.7,0.6) (48.0,-3.0) (48.2,-7.2) (48.4,-8.9) (48.5,-10.5)
(48.7,-6.0) (49.0,-1.0) (49.2,1.7) (49.5,3.5) (49.8,4.4) (50.1,2.0) (50.4,-0.5) (50.7,-2.0) (51.0,-1.0) (51.3,1.0) (51.6,3.5) (51.8,6.9) (51.9,9.0) (52.1,11.0) (52.2,11.7) (52.4,7.0) (52.6,5.3) (52.8,2.8) (53.0,-1.0) (53.2,-2.8)
(53.4,-4.0) (53.6,-5.8) (53.7,-3.6)
(23.0,-1.0) (26.2,-1.5) (29.5,-2.0) (32.0,-0.8) (35.0,-1.5) (36.0,-2.5) (39.5,-1.2) (42.0,-2.0) (43.0,0.8) (46.4,-1.8) (47.0,-0.5) (50.5,-2.5) (51.5,-1.0) (53.3,-1.5)
};
\addplot[dots=tabgreen] coordinates {
(0.0,0.2) (0.3,1.0) (0.6,1.7) (0.9,0.8) (1.2,1.4) (1.5,0.3) (1.8,1.0) (2.1,-0.5) (2.4,0.5) (2.7,-0.2) (2.9,2.2) (3.2,0.0) (3.5,-0.8) (3.8,0.4) (4.1,-0.6) (4.4,-1.2) (4.7,-0.3) (5.0,-1.6) (5.3,-2.2) (5.6,-1.0)
(5.9,-2.0) (6.2,-0.5) (6.5,-1.4) (6.8,-0.8) (7.1,-1.8) (7.4,-0.6) (7.6,-3.1) (7.9,-1.2) (8.2,-0.4) (8.5,-1.6) (8.8,-0.9) (9.1,-0.2) (9.4,-1.3) (9.7,-0.5) (10.0,0.2) (10.3,-0.8) (10.6,-1.5) (10.9,-0.3) (11.2,-1.1) (11.5,-0.5)
(11.8,-1.7) (12.1,-0.6) (12.4,-1.3) (12.7,-0.2) (13.0,-1.0) (13.9,-1.8) (14.2,-1.2) (14.5,-2.2) (14.8,-1.5) (15.1,-0.8) (15.4,-1.9) (15.7,-1.2) (16.0,-2.4) (16.3,-1.5) (16.6,-0.9) (16.9,-2.0) (17.2,-1.3) (17.5,-2.5) (17.8,-1.6) (18.1,-0.8)
(18.4,-1.9) (18.7,-1.2) (19.0,-2.3) (19.3,-1.5) (19.6,-0.9) (19.9,-1.8) (20.2,-1.1) (20.5,-2.4) (20.8,-1.4) (21.1,-0.6) (21.4,-1.7) (21.7,-0.9) (22.0,-2.0) (22.3,-1.2) (22.6,0.5) (22.9,-0.8) (23.2,-1.8) (23.5,-1.0) (23.8,-2.2) (24.1,-1.4)
(24.4,-0.6) (24.7,-1.9) (25.0,-1.1) (25.3,-2.5) (25.6,-1.5) (25.9,-0.7) (26.2,-2.0) (26.5,-1.2) (26.8,-2.6) (27.1,-1.6) (27.4,-0.8) (27.7,-2.1) (28.0,-1.3) (28.3,-2.8) (28.6,-1.7) (28.9,-0.9) (29.2,-2.2) (29.5,-1.4) (29.8,-3.0) (30.1,-1.8)
(30.4,-1.0) (30.7,-2.3) (31.0,-1.5) (31.3,-2.9) (31.6,-2.0) (31.9,-1.1) (32.2,-2.4) (32.5,-1.6) (32.8,-3.1) (33.1,-2.1) (33.4,-1.2) (33.7,-2.5) (34.0,-1.7) (34.3,-3.2) (34.6,-2.2) (34.9,-1.3) (35.2,-2.6) (35.5,-1.8) (35.8,-0.8) (36.1,-2.0)
(36.4,-1.4) (36.7,-2.8) (37.0,-1.9) (37.3,-3.3) (37.6,-2.3) (37.9,-1.5) (38.2,-2.7) (38.5,-2.0) (38.8,-3.4) (39.1,-2.4) (39.4,-1.4) (39.7,-0.9) (40.0,-2.2) (40.3,-1.6) (40.6,-3.0) (40.9,-2.1) (41.2,-3.5) (41.5,-2.5) (41.8,-1.6) (42.1,-2.9)
(42.4,-2.0) (42.7,-3.3) (43.0,-2.4) (43.3,-1.5) (43.6,-2.8) (43.9,-2.1) (44.2,-3.6) (44.5,-2.6) (44.8,-4.0) (45.1,-2.3) (45.4,-3.2) (45.7,-1.8) (46.0,-2.7) (46.3,-3.5) (46.6,-2.2) (46.9,-3.0) (47.1,5.1) (47.4,-2.5) (47.7,-3.8) (48.0,-2.7)
(48.3,-1.9) (48.6,-3.2) (48.9,-2.4) (49.2,-3.9) (49.5,-2.8) (49.8,-2.0) (50.1,-3.4) (50.4,-2.5) (50.7,-3.8) (51.0,-2.9) (51.3,-2.1) (51.6,-3.5) (51.9,-2.6) (52.2,-4.2) (52.5,-3.0) (52.8,-2.2) (53.1,-3.6) (53.4,-2.7) (53.7,-1.5)
(0.15,0.9) (0.45,1.3) (0.75,0.4) (1.05,1.8) (1.35,0.6) (1.65,1.2) (1.95,0.1) (2.25,0.8) (2.55,-0.4) (2.85,0.3) (3.05,-0.3) (3.35,0.6) (3.65,-0.5) (3.95,0.1) (4.25,-0.9) (4.55,-0.4) (4.85,-1.1) (5.15,-0.7) (5.45,-1.6) (5.75,-1.3)
(6.05,-1.0) (6.35,-1.8) (6.65,-0.9) (6.95,-1.4) (7.25,-1.0) (7.5,-2.2) (7.75,-1.5) (8.05,-0.8) (8.35,-1.2) (8.65,-0.5) (8.95,-1.4) (9.25,-0.7) (9.55,-1.0) (9.85,-0.2) (10.15,-1.1) (10.45,-0.6) (10.75,-1.2) (11.05,-0.8) (11.35,-1.5) (11.65,-0.3)
(11.95,-1.1) (12.25,-0.9) (12.55,-0.5) (12.85,-1.4) (13.15,-0.6) (14.05,-1.4) (14.35,-1.9) (14.65,-1.1) (14.95,-2.3) (15.25,-1.4) (15.55,-2.0) (15.85,-1.0) (16.15,-1.7) (16.45,-2.1) (16.75,-1.3) (17.05,-1.8) (17.35,-1.0) (17.65,-2.0) (17.95,-1.4) (18.25,-2.2)
(18.55,-1.5) (18.85,-1.0) (19.15,-1.7) (19.45,-2.1) (19.75,-1.3) (20.05,-1.9) (20.35,-1.5) (20.65,-0.9) (20.95,-1.8) (21.25,-1.1) (21.55,-2.2) (21.85,-1.4) (22.15,-1.6) (22.45,-0.6) (22.75,-1.3) (23.05,-1.1) (23.35,-2.1) (23.65,-1.5) (23.95,-1.8) (24.25,-0.9)
(24.55,-1.4) (24.85,-2.2) (25.15,-1.6) (25.45,-1.0) (25.75,-2.1) (26.05,-1.4) (26.35,-1.7) (26.65,-2.3) (26.95,-1.1) (27.25,-2.0) (27.55,-1.5) (27.85,-2.5) (28.15,-1.8) (28.45,-1.1) (28.75,-2.4) (29.05,-1.6) (29.35,-2.0) (29.65,-2.6) (29.95,-1.2) (30.25,-2.2)
(30.55,-1.6) (30.85,-2.7) (31.15,-1.9) (31.45,-1.3) (31.75,-2.5) (32.05,-1.8) (32.35,-2.8) (32.65,-2.1) (32.95,-1.4) (33.25,-2.6) (33.55,-1.9) (33.85,-2.9) (34.15,-2.2) (34.45,-1.5) (34.75,-2.7) (35.05,-2.0) (35.35,-1.2) (35.65,-2.4) (35.95,-1.6) (36.25,-2.8)
(36.55,-2.0) (36.85,-1.4) (37.15,-2.6) (37.45,-1.8) (37.75,-2.9) (38.05,-2.1) (38.35,-1.6) (38.65,-2.8) (38.95,-2.2) (39.25,-1.8) (39.55,-1.2) (39.85,-2.5) (40.15,-1.9) (40.45,-2.7) (40.75,-1.7) (41.05,-2.9) (41.35,-2.2) (41.65,-3.1) (41.95,-2.0) (42.25,-2.6)
(42.55,-1.8) (42.85,-2.9) (43.15,-2.1) (43.45,-3.2) (43.75,-2.4) (44.05,-1.9) (44.35,-3.0) (44.65,-2.3) (44.95,-3.4) (45.25,-2.7) (45.55,-2.0) (45.85,-3.1) (46.15,-2.4) (46.45,-3.3) (46.75,-2.6) (47.05,-2.0) (47.25,-3.2) (47.55,-2.3) (47.85,-3.4) (48.15,-2.5)
(48.45,-3.0) (48.75,-2.2) (49.05,-3.5) (49.35,-2.6) (49.65,-3.3) (49.95,-2.4) (50.25,-3.7) (50.55,-2.9) (50.85,-2.2) (51.15,-3.3) (51.45,-2.7) (51.75,-3.9) (52.05,-3.0) (52.35,-2.4) (52.65,-3.5) (52.95,-2.9) (53.25,-3.2) (53.55,-2.3)
};
\end{axis}

% ---------- validation data, error over shaft velocity ----------
\begin{axis}[panel=9.8, errlegend=9.8,
  at={(264.65pt,56.6pt)}, anchor=south west,
  width=187.85pt, height=88.1pt,
  xmin=-35.4, xmax=35.35, ymin=-15.45, ymax=14.0,
  xtick={-20,0,20}, xticklabels={−20,0,20},
  ytick={-10,0,10}, yticklabels={−10,0,10},
  xticklabel style={anchor=base, yshift=-9.8pt},
  yticklabel style={xshift=-0.85pt},
  xlabel={Servo shaft velocity [rpm]},
  xlabel style={at={([yshift=-23.6pt]axis description cs:0.5,0)}, anchor=base},
  legend style={at={(0.9494,1.395)}, anchor=north west},
]
\addplot[dots=tabblue] coordinates {
(-32.2,-0.6) (-32.0,-1.2) (-31.9,-5.6)
(-30.3,3.2) (-30.1,1.8) (-30.0,-8.5)
(-28.7,4.6) (-28.5,2.3) (-28.4,-9.4) (-28.6,-12.6)
(-26.8,2.5) (-26.7,-10.0)
(-25.0,5.9) (-24.9,-11.8)
(-23.4,11.5) (-23.2,3.5) (-23.1,2.5) (-23.3,1.5) (-23.0,0.5) (-23.2,-1.0) (-23.1,-4.5) (-23.3,-11.7) (-22.9,-2.5)
(-21.8,10.0) (-21.7,3.5) (-21.6,1.5) (-21.8,-4.0)
(-20.0,8.3) (-19.8,-5.3) (-19.9,-2.0)
(-18.8,7.5) (-18.6,-4.4) (-18.5,0.5)
(-16.9,5.3) (-16.6,4.0) (-16.3,1.5)
(-14.9,5.6) (-14.7,5.0) (-14.6,4.0) (-14.5,3.0) (-14.4,2.0) (-14.6,1.0) (-14.5,0.0) (-14.4,-1.0) (-14.6,-2.0) (-14.5,-3.0) (-14.3,-4.0) (-14.4,-5.0) (-14.5,-6.0) (-14.4,-6.7)
(-13.0,0.5) (-12.7,-0.5) (-11.2,1.5) (-10.8,0.3) (-9.5,-1.0) (-8.8,0.5) (-7.5,-3.3) (-7.0,-0.5)
(-6.2,1.5) (-6.0,0.5) (-5.8,-0.5) (-5.6,-1.5) (-5.5,-2.2) (-5.4,0.0) (-5.3,-1.0)
(-4.1,0.5) (-3.5,-0.5) (-2.8,0.2) (-2.0,-1.0) (-1.6,-0.3) (-0.3,-0.5) (0.3,-1.0)
(0.8,-0.6) (2.1,1.1) (2.8,0.6) (3.5,-1.0) (4.2,0.8) (4.6,-0.5)
(5.5,5.3) (5.6,4.5) (5.4,3.5) (5.5,2.5) (5.7,1.5) (5.6,0.5) (5.5,-0.5) (5.4,-1.5) (5.6,-2.8)
(7.0,0.5) (7.8,-0.3) (8.5,0.0) (9.2,-0.5) (10.2,1.1) (10.8,0.6) (11.5,0.8) (12.1,1.0) (12.6,2.2) (13.0,1.7)
(14.2,7.5) (14.3,6.5) (14.4,5.5) (14.3,4.5) (14.5,3.5) (14.4,2.5) (14.3,1.5) (14.5,0.5) (14.4,-0.5) (14.3,-1.5) (14.5,-2.5) (14.4,-3.5) (14.3,-4.5) (14.5,-5.6)
(15.6,6.1) (16.0,-6.4) (16.5,4.2) (17.0,2.2) (17.6,-7.5) (18.4,6.9) (18.5,2.2) (18.7,-7.5)
(20.0,7.7) (20.2,-7.5) (21.2,11.1) (21.5,-10.3) (21.7,-8.9) (21.4,2.5)
(22.9,12.2) (23.0,7.5) (23.2,6.5) (23.1,5.5) (23.3,1.5) (23.2,-1.0) (23.0,-3.0) (23.1,-11.9) (23.2,-12.3) (23.3,-12.8) (23.5,-0.5)
(25.0,8.9) (25.1,-6.1) (24.9,-8.9)
(27.2,11.9) (27.4,3.9) (27.3,-9.4)
(28.7,9.4) (28.6,3.0) (28.8,-4.7) (28.5,-6.2)
(30.3,10.6) (30.2,3.9) (30.4,1.5)
(31.9,3.6) (32.0,0.5) (32.1,-1.0) (32.2,-1.8)
};
\addplot[dots=taborange] coordinates {
(-32.2,-8.6) (-32.0,-13.2) (-31.9,-14.2)
(-30.3,-8.9) (-30.1,-10.9) (-30.0,-12.6)
(-28.6,-6.2) (-28.5,-7.2) (-28.4,-2.0)
(-26.8,-0.3) (-26.7,-2.2)
(-25.0,-1.4)
(-23.4,-1.0) (-23.2,-1.8) (-23.1,-6.1) (-23.0,-8.4) (-23.2,-10.9) (-23.3,0.5)
(-21.8,2.5) (-21.7,1.0) (-21.6,0.0)
(-20.0,3.9) (-19.9,2.2)
(-18.8,5.6) (-18.6,3.0)
(-16.8,6.4) (-16.5,5.2) (-16.3,4.7) (-16.4,3.5)
(-14.9,5.6) (-14.7,4.8) (-14.6,4.0) (-14.5,3.0) (-14.4,2.0) (-14.6,1.0) (-14.5,0.0) (-14.3,-1.0) (-14.5,-2.5) (-14.4,-4.0) (-14.6,-5.5) (-14.5,-6.5)
(-13.2,5.6) (-12.9,4.7) (-12.6,3.9) (-11.3,5.8) (-11.0,4.5) (-10.7,2.8) (-9.7,5.3) (-9.4,4.0) (-9.1,2.5) (-7.5,4.5) (-7.2,3.0)
(-6.3,3.5) (-6.0,2.5) (-5.8,1.5) (-5.6,0.5) (-5.5,-0.5) (-5.4,-1.5) (-5.3,2.0)
(-4.1,2.5) (-3.5,1.5) (-3.0,2.2) (-2.5,0.5) (-2.0,1.0) (-1.6,0.2) (-0.3,0.5) (0.3,0.0)
(0.8,0.3) (2.1,-0.5) (2.8,-1.2) (3.5,-0.8) (4.2,-1.4) (4.6,-1.0)
(5.0,3.9) (5.3,3.0) (5.5,2.0) (5.6,1.0) (5.4,0.0) (5.5,-1.0) (5.7,-2.0) (5.6,-3.3)
(6.8,-2.8) (7.5,-4.0) (8.2,-5.6) (8.8,-3.5) (9.6,-5.0) (10.2,-3.9) (10.8,-5.5) (11.5,-6.4) (12.1,-4.5) (12.8,-6.1)
(14.1,7.5) (14.3,6.5) (14.4,5.0) (14.2,3.5) (14.5,2.0) (14.4,0.5) (14.3,-1.0) (14.5,-2.5) (14.4,-4.0) (14.3,-5.5) (14.5,-7.0) (14.6,-7.5)
(15.8,-0.3) (16.0,-8.9) (16.6,-1.7) (17.2,-3.9) (17.8,-2.5) (18.4,0.0) (18.5,-3.9) (18.7,-5.8)
(20.0,1.1) (20.2,-2.2) (20.3,-2.8) (21.3,-2.0) (21.6,-3.3) (21.8,-5.8)
(22.9,12.7) (23.0,10.5) (23.1,6.7) (23.2,5.5) (23.3,4.0) (23.1,2.8) (23.2,-1.4) (23.4,-3.3)
(25.0,5.9) (25.1,1.7)
(26.8,8.7) (27.4,5.6)
(28.7,11.1) (28.8,4.7) (28.6,1.0)
(30.3,6.9) (30.1,4.2) (30.4,2.2) (30.0,10.4)
(31.9,9.2) (32.0,5.0) (32.1,3.3) (32.2,3.0)
};
\addplot[dots=tabgreen] coordinates {
(-32.2,-2.5) (-32.0,-3.9) (-31.9,-4.6)
(-30.3,-2.2) (-30.1,-2.6) (-30.0,-3.7)
(-28.7,-1.2) (-28.5,-2.5) (-28.4,-3.3)
(-26.8,-1.4) (-26.7,-2.8) (-26.6,-3.6)
(-25.0,-0.9) (-24.9,-2.2) (-25.1,-3.3)
(-23.4,-0.3) (-23.3,-1.2) (-23.2,-2.0) (-23.1,-2.8) (-23.0,-3.9) (-23.2,-1.6)
(-21.8,-1.4) (-21.7,-2.2)
(-20.0,-2.2) (-19.8,-2.8)
(-18.8,-1.7) (-18.6,-2.5)
(-16.9,-1.1) (-16.5,-2.0) (-16.3,-2.8)
(-14.9,1.0) (-14.7,0.3) (-14.6,-0.5) (-14.5,-1.2) (-14.4,-2.0) (-14.6,-2.8) (-14.5,-3.8) (-14.3,-0.8)
(-13.2,-0.8) (-12.9,-1.8) (-12.6,-2.8) (-11.3,-0.8) (-11.0,-1.8) (-10.7,-2.8) (-9.7,-0.6) (-9.4,-1.5) (-9.1,-2.5) (-7.5,5.2) (-8.0,-1.0) (-7.2,-2.0)
(-6.3,2.5) (-6.1,1.5) (-5.9,0.5) (-5.8,-0.3) (-5.6,-1.0) (-5.5,-1.8) (-5.4,-2.7) (-5.3,1.0) (-5.6,0.0)
(-4.1,-0.8) (-3.5,-1.6) (-3.0,-2.2) (-2.5,-1.2) (-2.0,-2.8) (-1.6,-1.8) (-0.8,-2.5) (-0.3,-1.2) (0.3,-2.0)
(0.8,-3.2) (1.5,-1.0) (2.1,-2.2) (2.8,-2.8) (3.5,-1.5) (4.2,-0.6) (4.6,-2.5)
(4.9,0.8) (5.2,0.0) (5.4,-0.8) (5.5,-1.5) (5.6,-2.3) (5.7,-3.2) (5.5,1.6) (5.8,-0.5)
(6.8,-0.5) (7.5,-1.5) (8.2,-2.2) (8.8,-3.8) (9.6,-2.8) (10.2,-0.8) (10.8,-1.8) (11.5,-2.8) (12.1,-1.2) (12.8,-2.2)
(14.1,0.6) (14.3,-0.3) (14.4,-1.0) (14.2,-1.8) (14.5,-2.6) (14.4,-3.8)
(15.8,0.0) (16.3,-1.0) (16.8,-1.6) (17.5,-0.6) (18.4,-2.5) (18.7,-3.3) (20.2,-1.2) (21.3,-1.5) (21.6,-2.8) (21.8,-3.3)
(22.9,-2.2) (23.1,-2.8) (23.2,-3.5) (23.3,-4.3) (23.0,-1.6)
(25.0,-5.5) (25.2,-2.5) (26.8,-5.0) (27.3,-3.0)
(28.6,-2.8) (28.8,-4.2) (30.3,-3.9) (30.1,-2.5)
(31.9,-2.2) (32.0,-3.5) (32.1,-4.5) (32.2,-4.0)
};
\legend{\textit{x},\textit{y},\textit{z}}
\end{axis}
\end{tikzpicture}
\end{document}
